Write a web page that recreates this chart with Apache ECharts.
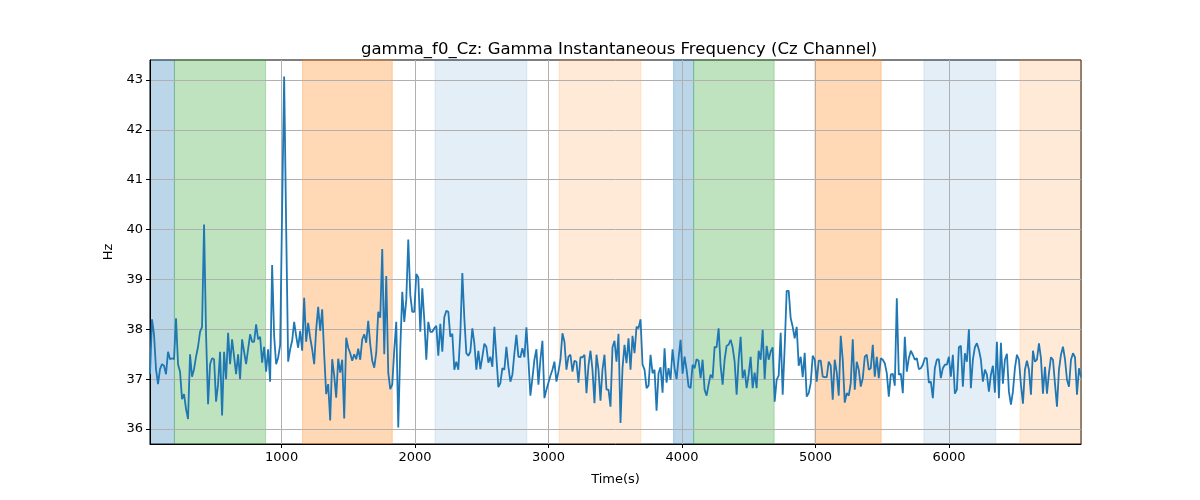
<!DOCTYPE html>
<html>
<head>
<meta charset="utf-8">
<script src="https://cdn.jsdelivr.net/npm/echarts@6/dist/echarts.min.js"></script>
<style>
  html, body { margin: 0; padding: 0; background: #fff; }
  #chart { width: 1200px; height: 500px; }
</style>
</head>
<body>
<div id="chart"></div>
<script>
// sampling of the Cz gamma frequency trace
const startTime = 14;
const sampleStep = 15;

// Hz values left to right
const hzValues = [
  // 14 .. 899
  37.1, 38.2, 37.9, 37.2, 36.9, 37.2, 37.3, 37.27, 37.1, 37.55,
  37.4, 37.42, 37.4, 38.22, 37.3, 37.15, 36.6, 36.7, 36.4, 36.2,
  37.5, 37.05, 37.2, 37.45, 37.65, 37.95, 38.05, 40.1, 37.9, 36.5,
  37.3, 37.42, 37.4, 36.55, 36.9, 37.55, 36.27, 37.55, 37.0, 37.93,
  37.3, 37.8, 37.45, 37.1, 37.5, 37.0, 37.8, 37.55, 37.3, 37.6,
  37.9, 37.75, 37.75, 38.1, 37.8, 37.85, 37.33, 37.65, 37.15, 37.6,
  // 914 .. 1799
  36.95, 39.29, 37.87, 37.3, 37.43, 37.68, 40.4, 43.07, 40.07, 37.35,
  37.6, 37.77, 38.15, 37.87, 37.63, 37.97, 37.57, 38.63, 37.75, 38.13,
  37.83, 37.6, 37.3, 38.0, 38.45, 37.97, 38.4, 37.5, 36.7, 36.9,
  36.17, 37.4, 37.07, 36.63, 37.41, 37.13, 37.39, 36.21, 37.83, 37.63,
  37.52, 37.37, 37.5, 37.4, 37.61, 37.39, 37.8, 37.9, 37.73, 38.17,
  37.7, 37.37, 37.23, 37.53, 38.35, 38.23, 39.61, 37.5, 39.07, 37.13,
  // 1814 .. 2699
  36.8, 36.89, 37.59, 38.15, 36.03, 37.59, 38.75, 38.15, 38.59, 39.8,
  38.69, 38.35, 38.35, 39.11, 39.04, 37.95, 38.82, 38.19, 37.39, 38.15,
  37.95, 37.95, 38.02, 38.07, 37.47, 38.11, 37.55, 38.24, 38.37, 38.35,
  37.85, 37.91, 37.19, 37.35, 37.19, 37.92, 39.13, 38.22, 37.52, 37.47,
  37.55, 38.02, 37.72, 37.19, 37.57, 37.2, 37.45, 37.71, 37.65, 37.33,
  37.45, 37.25, 38.05, 37.45, 36.84, 36.92, 37.22, 37.19, 37.65, 37.25,
  // 2714 .. 3599
  36.95, 37.09, 37.52, 37.89, 37.45, 37.44, 37.62, 37.44, 38.04, 37.39,
  36.67, 37.02, 37.39, 37.6, 36.89, 37.39, 37.77, 36.62, 36.79, 36.93,
  37.07, 37.19, 37.35, 36.95, 37.15, 37.39, 37.92, 37.75, 37.19, 37.45,
  37.49, 37.15, 37.37, 37.35, 36.93, 37.44, 37.44, 37.49, 36.72, 37.27,
  37.57, 37.19, 36.52, 37.49, 37.19, 36.57, 37.19, 37.49, 36.79, 36.79,
  36.45, 37.64, 37.77, 37.35, 37.91, 36.12, 37.22, 37.69, 37.32, 37.82,
  // 3614 .. 4499
  37.19, 37.87, 37.52, 38.05, 38.02, 38.2, 37.29, 37.19, 36.82, 36.87,
  37.49, 37.12, 37.19, 36.37, 37.12, 37.24, 36.73, 37.62, 36.93, 37.22,
  36.99, 37.6, 37.22, 37.0, 37.42, 37.79, 37.11, 37.45, 37.19, 36.85,
  36.82, 37.29, 37.22, 37.4, 37.37, 37.02, 37.39, 36.79, 36.67, 36.89,
  37.09, 37.02, 37.65, 37.64, 38.02, 37.27, 36.89, 37.39, 37.67, 37.69,
  37.79, 37.64, 37.35, 36.69, 37.39, 37.85, 37.02, 37.19, 36.82, 37.09,
  // 4514 .. 5399
  37.45, 36.82, 37.13, 36.82, 37.57, 37.39, 37.99, 37.0, 37.67, 37.39,
  37.55, 37.64, 36.55, 36.99, 37.07, 37.93, 36.69, 37.64, 38.77, 38.77,
  38.22, 38.05, 37.82, 38.05, 37.27, 37.45, 37.04, 37.53, 36.65, 36.72,
  36.92, 37.47, 37.39, 36.95, 37.37, 37.37, 37.05, 37.04, 37.04, 37.35,
  37.27, 36.59, 37.39, 37.13, 36.67, 37.87, 37.39, 36.53, 36.72, 36.67,
  36.92, 37.8, 36.79, 37.35, 37.19, 36.85, 37.02, 37.45, 37.49, 37.19,
  // 5414 .. 6299
  37.22, 37.69, 37.05, 37.45, 37.02, 37.42, 37.39, 37.32, 37.12, 36.65,
  37.09, 37.11, 36.87, 38.62, 37.09, 37.11, 36.72, 37.85, 37.15, 37.42,
  37.57, 37.49, 37.39, 37.42, 37.2, 37.22, 37.29, 37.42, 37.42, 36.93,
  36.95, 36.62, 37.22, 37.39, 37.4, 37.02, 37.22, 37.29, 37.29, 37.45,
  37.05, 37.49, 36.71, 36.79, 37.64, 37.67, 36.85, 37.52, 37.35, 38.0,
  36.82, 37.39, 37.64, 37.72, 37.59, 37.39, 36.95, 37.19, 37.09, 36.75,
  // 6314 .. 6989
  37.09, 37.27, 36.73, 37.75, 36.62, 37.73, 36.91, 37.39, 37.51, 36.75,
  36.49, 36.75, 37.22, 37.49, 37.39, 36.89, 36.51, 37.19, 37.37, 37.19,
  36.69, 37.57, 37.35, 37.39, 37.72, 37.42, 36.71, 37.25, 36.71, 37.12,
  37.44, 37.39, 36.91, 36.45, 37.19, 37.49, 37.65, 37.4, 36.99, 36.85,
  37.39, 37.52, 37.44, 36.69, 37.22, 37.05
];

// shaded stretches (time in s)
const spanStarts = [14, 197, 1157, 2149, 3080, 3937, 4087, 4995, 5812, 6532];
const spanEnds   = [197, 880, 1829, 2837, 3692, 4087, 4690, 5492, 6350, 6989];
const spanKinds  = ['blue', 'green', 'orange', 'blueLight', 'orangeLight',
                    'blue', 'green', 'orange', 'blueLight', 'orangeLight'];

const xTicks = [1000, 2000, 3000, 4000, 5000, 6000];
const yTicks = [36, 37, 38, 39, 40, 41, 42, 43];

const kindColors = {
  blue: 'rgba(31,119,180,0.3)',
  green: 'rgba(44,160,44,0.3)',
  orange: 'rgba(255,127,14,0.3)',
  blueLight: 'rgba(31,119,180,0.12)',
  orangeLight: 'rgba(255,127,14,0.16)'
};

const times = hzValues.map((v, i) => startTime + i * sampleStep);
const lineData = hzValues.map((v, i) => [times[i], v]);
const xMin = startTime;
const xMax = times[times.length - 1];

const areas = spanStarts.map((s, i) => {
  const c = kindColors[spanKinds[i]];
  return [
    { xAxis: s, itemStyle: { color: c, borderColor: c, borderWidth: 1 } },
    { xAxis: spanEnds[i] }
  ];
});

const myChart = echarts.init(document.getElementById('chart'), null, { renderer: 'canvas' });
const font = 'DejaVu Sans';

const option = {
  animation: false,
  title: {
    text: 'gamma_f0_Cz: Gamma Instantaneous Frequency (Cz Channel)',
    left: 356,
    top: 36,
    textStyle: { fontFamily: font, fontSize: 16.5, fontWeight: 'normal', color: '#000' }
  },
  grid: {
    left: 150,
    right: 119,
    top: 60,
    bottom: 56,
    show: true,
    borderColor: '#000',
    borderWidth: 1,
    backgroundColor: 'transparent'
  },
  xAxis: {
    type: 'value',
    min: xMin,
    max: xMax,
    z: 3,
    name: 'Time(s)',
    nameLocation: 'middle',
    nameGap: 29,
    nameTextStyle: { fontFamily: font, fontSize: 13, color: '#000' },
    axisLine: { show: true, onZero: false, lineStyle: { color: '#000', width: 1 } },
    axisTick: { show: true, inside: false, length: 4, customValues: xTicks, lineStyle: { color: '#000' } },
    axisLabel: {
      customValues: xTicks, margin: 7, fontFamily: font, fontSize: 13, color: '#000',
      formatter: (v) => String(v)
    },
    splitLine: { show: true, lineStyle: { color: '#b0b0b0', width: 1 } }
  },
  yAxis: {
    type: 'value',
    min: 35.7,
    max: 43.4,
    z: 3,
    name: 'Hz',
    nameLocation: 'middle',
    nameGap: 33,
    nameRotate: 90,
    nameTextStyle: { fontFamily: font, fontSize: 13, color: '#000' },
    axisLine: { show: true, onZero: false, lineStyle: { color: '#000', width: 1 } },
    axisTick: { show: true, inside: false, length: 4, customValues: yTicks, lineStyle: { color: '#000' } },
    axisLabel: {
      customValues: yTicks, margin: 7, fontFamily: font, fontSize: 13, color: '#000',
      formatter: (v) => String(v)
    },
    splitLine: { show: true, lineStyle: { color: '#b0b0b0', width: 1 } }
  },
  series: [
    {
      name: 'spans',
      type: 'line',
      z: 1,
      data: [],
      silent: true,
      markArea: { silent: true, data: areas }
    },
    {
      name: 'gamma_f0_Cz',
      type: 'line',
      z: 4,
      data: lineData,
      showSymbol: false,
      symbol: 'none',
      lineStyle: { color: '#1f77b4', width: 1.8 },
      itemStyle: { color: '#1f77b4' }
    }
  ]
};

option && myChart.setOption(option);
</script>
</body>
</html>
